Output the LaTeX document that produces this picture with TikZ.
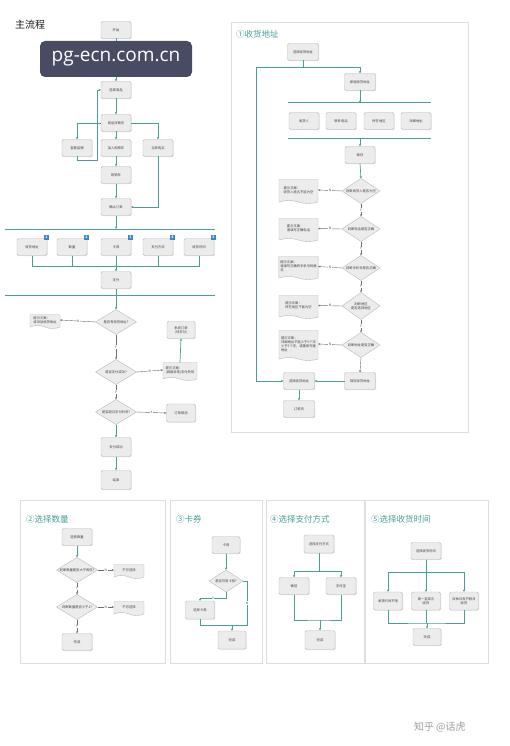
\documentclass[tikz,border=0pt]{standalone}
\usepackage{fontspec}
\setmainfont{Noto Sans CJK SC}
\newfontfamily\wmfont{Open Sans}
\usetikzlibrary{shapes.geometric,shapes.symbols,arrows.meta,shadows}
\definecolor{tl}{RGB}{72,160,150}
\definecolor{bxf}{RGB}{236,236,236}
\definecolor{bxd}{RGB}{185,185,185}
\definecolor{frm}{RGB}{218,224,226}
\definecolor{dk}{RGB}{105,115,115}
\definecolor{bd}{RGB}{55,135,205}
\definecolor{wm}{RGB}{72,75,98}
\tikzset{
 every node/.style={inner sep=0pt, outer sep=0pt},
 tiny/.style={font=\fontsize{3.3}{4}\selectfont, align=center, text=black!75},
 box/.style={tiny, rectangle, rounded corners=1.5pt, draw=bxd, fill=bxf, line width=0.4pt, minimum width=30pt, minimum height=17pt, drop shadow={shadow xshift=0.6pt, shadow yshift=-0.6pt, opacity=0.25}},
 dia/.style={diamond, draw=bxd, fill=bxf, line width=0.4pt, minimum width=41pt, minimum height=25pt},
 doc/.style={tiny, align=left, tape, tape bend top=none, tape bend bottom=out and in, tape bend height=3pt, draw=bxd, fill=bxf, line width=0.4pt, minimum width=30pt, minimum height=14pt, inner xsep=1.5pt},
 fl/.style={draw=tl, line width=0.7pt, -{Stealth[length=2.5pt,width=2.2pt]}},
 ln/.style={draw=tl, line width=0.7pt},
 bar/.style={draw=tl, line width=1pt},
 dec/.style={draw=dk, line width=0.4pt, -{Stealth[length=2.3pt,width=2pt]}},
 yn/.style={font=\fontsize{3.3}{4}\selectfont, fill=white, inner sep=0.6pt, text=black!70},
 frame/.style={draw=frm, line width=0.8pt},
 ttl/.style={font=\fontsize{8.5}{10}\selectfont, text=tl, anchor=west},
 badge/.style={fill=bd, minimum size=5pt, font=\fontsize{3.5}{4}\selectfont\bfseries, text=white},
}
\begin{document}
\begin{tikzpicture}[x=1pt,y=-1pt]
\fill[white] (0,0) rectangle (509,746);
\useasboundingbox (0,0) rectangle (509,746);

% ---------- main flow ----------
\node[anchor=west, font=\fontsize{10}{12}\selectfont, text=black!90] (mt) at (15,25) {主流程};
\node[box] (start) at (116,30) {开始};
\node[box] (home) at (116,58) {};
\node[box] (sel) at (116,90) {选择商品};
\node[box] (detail) at (116,123) {商品详情页};
\node[box] (shop) at (77,148) {查看店铺};
\node[box] (cart) at (116,148) {加入购物车};
\node[box] (buy) at (158,148) {立即购买};
\node[box] (cartp) at (116,175) {购物车};
\node[box] (confirm) at (116,207) {确认订单};
\draw[fl] (start) -- (home);
\draw[fl] (home) -- (sel);
\draw[fl] (sel) -- (detail);
\draw[fl] (detail) -- (cart);
\draw[fl] (detail.west) -| (shop.north);
\draw[fl] (detail.east) -| (buy.north);
\draw[fl] (shop.south) -- ++(0,4) -- ++(20,0) |- (sel.west);
\draw[fl] (cart) -- (cartp);
\draw[fl] (cartp) -- (confirm);
\draw[fl] (buy.south) |- (confirm.east);
\coordinate (b1l) at (5,229); \coordinate (b1r) at (215,229);
\draw[bar] (b1l) -- (b1r);
\draw[fl] (confirm.south) -- (116,229);
\node[box] (addr) at (32,247) {收货地址};
\node[box] (qty) at (72,247) {数量};
\node[box] (coupon) at (116,247) {卡券};
\node[box] (payw) at (158,247) {支付方式};
\node[box] (time) at (199,247) {收货时间};
\foreach \n/\k in {addr/1,qty/2,coupon/3,payw/4,time/5}
  \node[badge, xshift=-0.5pt, yshift=1pt] (bg\k) at (\n.north east) {\k};
\node[box] (paybox) at (116,280) {支付};
\draw[ln] (addr.south) -- (32,266) -- (199,266) -- (time.south);
\draw[ln] (qty.south) -- (72,266);
\draw[ln] (payw.south) -- (158,266);
\draw[fl] (coupon.south) -- (paybox.north);
\coordinate (b2l) at (5,295); \coordinate (b2r) at (215,295);
\draw[bar] (b2l) -- (b2r);
\draw[ln] (paybox.south) -- (116,295);
\node[dia, label={[tiny]center:是否有收货地址?}] (d1) at (116,322) {};
\node[doc] (doc1) at (45,320) {提示文案：\\请添加收货地址};
\node[dia, label={[tiny]center:是否支付成功?}] (d2) at (116,372) {};
\node[doc, minimum width=34pt, minimum height=18pt] (doc2) at (180,370) {提示文案：\\(网络异常)支付失败};
\node[box, minimum width=28pt] (sys) at (181,330) {系统订单\\(待支付)};
\node[dia, label={[tiny]center:是否超过支付时间?}] (d3) at (116,412) {};
\node[box, minimum width=29pt, minimum height=18pt] (cancel) at (181,413) {订单取消};
\node[box, minimum height=19pt] (succ) at (116,447) {支付成功};
\node[box, minimum height=19pt] (end) at (116,480) {结束};
\draw[fl] (116,295) -- (d1.north);
\draw[dec] (d1.west) -- node[yn]{N} (doc1.east);
\draw[dec] (d1.south) -- node[yn]{Y} (d2.north);
\draw[dec] (d2.east) -- node[yn]{N} (doc2.west);
\draw[fl] (doc2.north) -- (sys.south);
\draw[dec] (d2.south) -- node[yn]{Y} (d3.north);
\draw[dec] (d3.east) -- node[yn]{Y} (cancel.west);
\draw[fl] (d3.south) -- (succ.north);
\draw[fl] (succ) -- (end);

% ---------- panel 1: address ----------
\draw[frame] (231,22) rectangle (468,432);
\node[ttl] (t1) at (236,34) {①收货地址};
\node[box, minimum width=31pt] (selA) at (303,52) {选择收货地址};
\node[box, minimum width=31pt] (newA) at (360,82) {新增收货地址};
\node[box, minimum width=31pt] (pickA) at (299,381) {选择收货地址};
\node[box, minimum width=31pt] (saveA) at (360,381) {保存收货地址};
\node[box, minimum width=31pt] (order) at (299,409) {订单页};
\draw[fl] (selA.south) -- ++(0,7) -| (newA.north);
\draw[fl] (selA.south) -- ++(0,7) -- (256,67.5) |- (pickA.west);
\draw[bar] (288,103) -- (431,103);
\draw[bar] (288,139) -- (431,139);
\draw[fl] (newA.south) -- (360,103);
\node[box] (f1) at (304,121) {收货人};
\node[box] (f2) at (341,121) {联系电话};
\node[box] (f3) at (379,121) {所在地区};
\node[box] (f4) at (416,121) {详细地址};
\node[box] (save) at (360,155) {保存};
\draw[fl] (360,139) -- (save.north);
\node[dia, minimum width=38pt, label={[tiny]center:判断收货人是否为空}] (q1) at (361,191) {};
\node[dia, minimum width=38pt, label={[tiny]center:判断电话是否正确}] (q2) at (361,229) {};
\node[dia, minimum width=38pt, label={[tiny]center:判断手机号是否正确}] (q3) at (361,268) {};
\node[dia, minimum width=38pt, minimum height=27pt, label={[tiny]center:判断地区\\是否选择地区}] (q4) at (361,306) {};
\node[dia, minimum width=38pt, label={[tiny]center:判断地址是否正确}] (q5) at (361,345) {};
\node[doc, minimum width=39pt, minimum height=24pt] (e1) at (298.5,190) {提示文案：\\收货人姓名不能为空};
\node[doc, minimum width=39pt, minimum height=23pt] (e2) at (298.5,228.5) {提示文案：\\请填写正确电话};
\node[doc, minimum width=39pt, minimum height=23pt] (e3) at (298.5,266.5) {提示文案：\\请填写正确的手机号码格\\式};
\node[doc, minimum width=39pt, minimum height=23pt] (e4) at (298.5,305.5) {提示文案：\\所在地区不能为空};
\node[doc, minimum width=39pt, minimum height=30pt] (e5) at (298.5,344) {提示文案：\\详细地址不能少于5个字\\少于5个字，请重新完善\\地址};
\draw[fl] (save.south) -- (q1.north);
\foreach \a/\b in {q1/e1,q2/e2,q3/e3,q4/e4,q5/e5}
  \draw[dec] (\a.west) -- node[yn]{N} (\b.east);
\foreach \a/\b in {q1/q2,q2/q3,q3/q4,q4/q5}
  \draw[dec] (\a.south) -- node[yn]{Y} (\b.north);
\draw[dec] (q5.south) -- (saveA.north);
\draw[fl] (saveA.west) -- (pickA.east);
\draw[fl] (pickA.south) -- (order.north);

% ---------- panel 2: quantity ----------
\draw[frame] (20,500) rectangle (165,663);
\node[ttl] (t2) at (26,519) {②选择数量};
\node[box] (qsel) at (77,537) {选择数量};
\node[dia, label={[tiny]center:判断数量是否大于库存?}] (qd1) at (77,570) {};
\node[doc] (qdoc1) at (129,570) {不可选择};
\node[dia, label={[tiny]center:判断数量是否小于1?}] (qd2) at (77,607) {};
\node[doc] (qdoc2) at (129,607) {不可选择};
\node[box] (qdone) at (77,642) {完成};
\draw[fl] (qsel) -- (qd1);
\draw[dec] (qd1.east) -- node[yn]{N} (qdoc1.west);
\draw[dec] (qd1.south) -- node[yn]{Y} (qd2.north);
\draw[dec] (qd2.east) -- node[yn]{N} (qdoc2.west);
\draw[dec] (qd2.south) -- node[yn]{Y} (qdone.north);

% ---------- panel 3: coupon ----------
\draw[frame] (170,500) rectangle (262,663);
\node[ttl] (t3) at (176,519) {③卡券};
\node[box, minimum width=28pt] (cp) at (226,545) {卡券};
\node[dia, minimum width=34pt, minimum height=22pt, label={[tiny]center:是否可用卡券?}] (cpd) at (226,581) {};
\node[box, minimum width=29pt, minimum height=18pt] (cpsel) at (200,610) {选择卡券};
\node[box, minimum width=28pt, minimum height=18pt] (cpdone) at (232,640) {完成};
\draw[fl] (cp) -- (cpd);
\draw[fl] (cpd.south) -- ++(0,6) -| node[pos=0.25, yn]{Y} (cpsel.north);
\coordinate (cn1) at (247,581);
\coordinate (cn2) at (247,625);
\coordinate (cj) at (232,625);
\draw[ln] (cpd.east) -- (cn1) -- node[yn]{N} (cn2) -- (cj);
\draw[ln] (cpsel.south) |- (cj);
\draw[fl] (cj) -- (cpdone.north);

% ---------- panel 4: payment ----------
\draw[frame] (266,500) rectangle (364,663);
\node[ttl] (t4) at (270,519) {④选择支付方式};
\node[box, minimum height=18pt] (psel) at (319,544) {选择支付方式};
\node[box] (wx) at (294,586) {微信};
\node[box] (zfb) at (341,586) {支付宝};
\node[box, minimum height=19pt] (pdone) at (320,640) {完成};
\draw[fl] (psel.south) -- ++(0,18) -| (wx.north);
\draw[fl] (psel.south) -- ++(0,18) -| (zfb.north);
\coordinate (pj) at (320,620);
\draw[ln] (wx.south) |- (pj) -| (zfb.south);
\draw[fl] (pj) -- (pdone.north);

% ---------- panel 5: time ----------
\draw[frame] (365,500) rectangle (488,663);
\node[ttl] (t5) at (371,519) {⑤选择收货时间};
\node[box] (tsel) at (426,551) {选择收货时间};
\node[box, minimum width=29pt, minimum height=18pt] (tm1) at (388,601) {收货时间不限};
\node[box, minimum width=29pt, minimum height=18pt] (tm2) at (426,601) {周一至周五\\收货};
\node[box, minimum width=29pt, minimum height=18pt] (tm3) at (464,601) {双休日及节假日\\收货};
\node[box, minimum width=28pt] (tdone) at (427,637) {完成};
\draw[fl] (tsel.south) -- ++(0,13) -| (tm1.north);
\draw[fl] (tsel.south) -- ++(0,13) -| (tm3.north);
\draw[fl] (tsel.south) -- (tm2.north);
\coordinate (tj) at (427,623);
\draw[ln] (tm1.south) |- (tj) -| (tm3.south);
\draw[ln] (tm2.south) -- (426,623);
\draw[fl] (tj) -- (tdone.north);

% ---------- overlays ----------
\node[fill=wm, rounded corners=5pt, minimum width=152pt, minimum height=36pt, text=white, font=\wmfont\fontsize{19}{20}\selectfont] (wmk) at (116,59) {pg-ecn.com.cn};
\node[anchor=west, font=\fontsize{10}{11}\selectfont, text=black!38] (zh) at (414,727) {知乎 @话虎};
\end{tikzpicture}
\end{document}
